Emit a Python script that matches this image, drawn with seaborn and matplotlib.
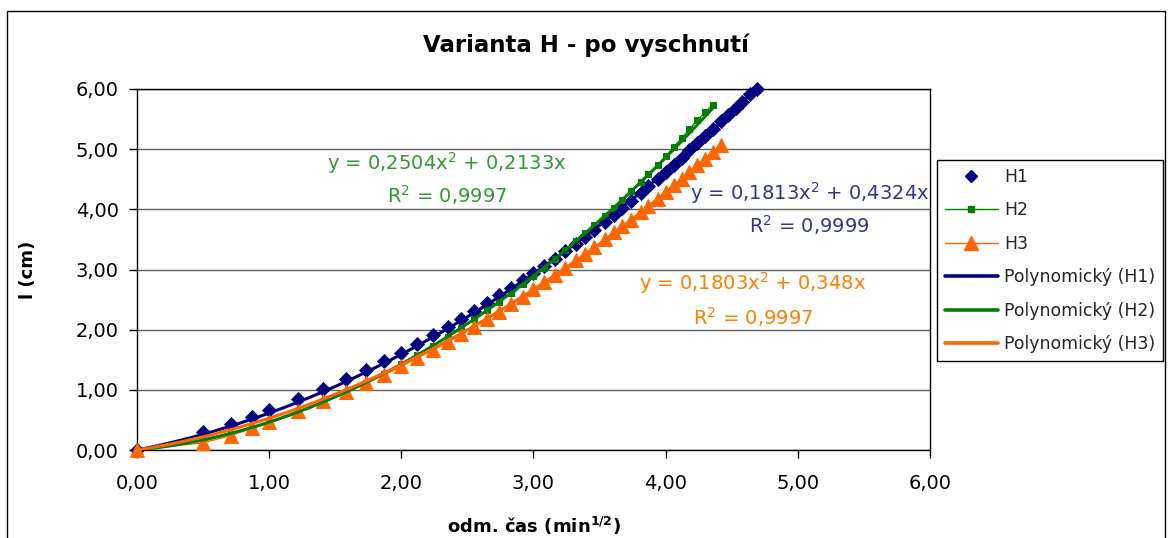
import numpy as np
import pandas as pd
import matplotlib
matplotlib.use("Agg")
import matplotlib.pyplot as plt
import seaborn as sns
from matplotlib.lines import Line2D
from matplotlib.patches import Rectangle
from matplotlib.ticker import FixedLocator, FuncFormatter

# ---------------- data ----------------
x_sqrt_time = [0.00, 0.50, 0.71, 0.87, 1.00, 1.22, 1.41, 1.58, 1.73, 1.87,
               2.00, 2.12, 2.24, 2.35, 2.45, 2.55, 2.65, 2.74, 2.83, 2.92,
               3.00, 3.08, 3.16, 3.24, 3.32, 3.39, 3.46, 3.54, 3.61, 3.67,
               3.74, 3.81, 3.87, 3.94, 4.00, 4.06, 4.12, 4.18, 4.24, 4.30,
               4.36, 4.42, 4.47, 4.53, 4.58, 4.64, 4.69]

y_h1 = [0.00, 0.30, 0.44, 0.55, 0.66, 0.85, 1.02, 1.18, 1.33, 1.48,
        1.62, 1.76, 1.91, 2.05, 2.18, 2.31, 2.44, 2.57, 2.70, 2.82,
        2.94, 3.06, 3.18, 3.30, 3.42, 3.54, 3.66, 3.79, 3.91, 4.02,
        4.14, 4.27, 4.38, 4.51, 4.62, 4.74, 4.86, 4.98, 5.10, 5.22,
        5.34, 5.46, 5.57, 5.69, 5.79, 5.91, 6.00]

y_h2 = [0.00, 0.15, 0.26, 0.36, 0.45, 0.62, 0.79, 0.95, 1.11, 1.27,
        1.43, 1.58, 1.73, 1.88, 2.02, 2.17, 2.32, 2.46, 2.61, 2.76,
        2.89, 3.03, 3.17, 3.32, 3.47, 3.60, 3.74, 3.89, 4.03, 4.16,
        4.31, 4.46, 4.59, 4.74, 4.88, 5.03, 5.18, 5.33, 5.48, 5.62,
        5.74]

y_h3 = [0.00, 0.12, 0.24, 0.36, 0.47, 0.65, 0.81, 0.97, 1.11, 1.25,
        1.39, 1.53, 1.66, 1.79, 1.92, 2.05, 2.18, 2.30, 2.43, 2.55,
        2.67, 2.79, 2.91, 3.03, 3.15, 3.26, 3.37, 3.50, 3.62, 3.72,
        3.83, 3.95, 4.06, 4.18, 4.29, 4.40, 4.51, 4.62, 4.73, 4.84,
        4.95, 5.07]

series_names = ["H1", "H2", "H3"]
fit_names = ["Polynomický (H1)", "Polynomický (H2)", "Polynomický (H3)"]
fit_a = [0.1813, 0.2504, 0.1803]     # coefficient of x^2 (trendline labels)
fit_b = [0.4324, 0.2133, 0.348]      # coefficient of x
fit_r2 = ["0,9999", "0,9997", "0,9997"]
eq_a_text = ["0,1813", "0,2504", "0,1803"]
eq_b_text = ["0,4324", "0,2133", "0,348"]

x_ticks = [0, 1, 2, 3, 4, 5, 6]
y_ticks = [0, 1, 2, 3, 4, 5, 6]

title_text = "Varianta H - po vyschnutí"
x_label = r"odm. čas (min$^{\mathbf{1/2}}$)"
y_label = "l (cm)"

# ---------------- style ----------------
sns.set_theme(style="white")
plt.rcParams["font.family"] = ["DejaVu Sans"]
plt.rcParams["mathtext.fontset"] = "custom"
plt.rcParams["mathtext.rm"] = "DejaVu Sans"
plt.rcParams["mathtext.it"] = "DejaVu Sans:italic"
plt.rcParams["mathtext.bf"] = "DejaVu Sans:bold"
plt.rcParams["mathtext.default"] = "regular"

c_series = ["#000080", "#008000", "#FF6600"]
c_eq = ["#333399", "#339933", "#FF8000"]

W, H = 1171, 538
fig = plt.figure(figsize=(W / 100, H / 100), dpi=100)
fig.patch.set_facecolor("white")
ax = fig.add_axes([137 / W, 1 - 450 / H, (930 - 137) / W, (450 - 89) / H])
ax.set_facecolor("white")

# outer chart frame (bottom edge outside the picture)
fig.add_artist(Rectangle((7 / W, -0.05), (1165 - 7) / W, 1 - 10.5 / H + 0.05,
                         transform=fig.transFigure, fill=False,
                         edgecolor="black", lw=1.0))

# ---------------- series ----------------
ys = [y_h1, y_h2, y_h3]
xs = [x_sqrt_time[:len(y)] for y in ys]

sns.scatterplot(x=xs[0], y=ys[0], ax=ax, marker="D", s=52, color=c_series[0],
                edgecolor=c_series[0], linewidth=0.5, zorder=3, clip_on=False,
                legend=False)
sns.lineplot(x=xs[1], y=ys[1], ax=ax, marker="s", markersize=5,
             color=c_series[1], markeredgecolor=c_series[1], lw=1,
             estimator=None, sort=False, zorder=3, clip_on=False, legend=False)
sns.lineplot(x=xs[2], y=ys[2], ax=ax, marker="^", markersize=10,
             color=c_series[2], markeredgecolor=c_series[2], lw=1,
             estimator=None, sort=False, zorder=3, clip_on=False, legend=False)

# trendlines (polynomial, intercept 0) from the displayed coefficients
fit_rows = []
for name, a, b, x in zip(fit_names, fit_a, fit_b, xs):
    xx = np.linspace(min(x), max(x), 200)
    fit_rows.append(pd.DataFrame({"x": xx, "y": a * xx ** 2 + b * xx, "series": name}))
fit_df = pd.concat(fit_rows, ignore_index=True)
sns.lineplot(data=fit_df, x="x", y="y", hue="series", ax=ax,
             palette=dict(zip(fit_names, c_series)), lw=2.2,
             estimator=None, sort=False, zorder=4, legend=False)

# trendline equations
eq_pos = [(5.09, 4.155, 3.607), (2.345, 4.65, 4.105), (4.66, 2.66, 2.077)]
for i in range(3):
    xp, ye, yr = eq_pos[i]
    ax.text(xp, ye, f"y = {eq_a_text[i]}x$^2$ + {eq_b_text[i]}x", color=c_eq[i],
            fontsize=14, ha="center", va="baseline", zorder=5)
    ax.text(xp, yr, f"R$^2$ = {fit_r2[i]}", color=c_eq[i],
            fontsize=14, ha="center", va="baseline", zorder=5)

# ---------------- axes ----------------
ax.set_xlim(0, 6)
ax.set_ylim(0, 6)
ax.xaxis.set_major_locator(FixedLocator(x_ticks))
ax.yaxis.set_major_locator(FixedLocator(y_ticks))
fmt = FuncFormatter(lambda v, p: f"{v:.2f}".replace(".", ","))
ax.xaxis.set_major_formatter(fmt)
ax.yaxis.set_major_formatter(fmt)
ax.tick_params(axis="both", which="major", direction="out", length=6,
               width=1, colors="black", labelsize=14, bottom=True, left=True)
ax.tick_params(axis="x", pad=11)
ax.tick_params(axis="y", pad=7)
ax.grid(axis="y", color="#606060", lw=1.0, zorder=0)
ax.grid(axis="x", visible=False)
for sp in ax.spines.values():
    sp.set_visible(True)
    sp.set_color("black")
    sp.set_linewidth(1.0)

ax.set_xlabel(x_label, fontsize=13, fontweight="bold", color="black")
ax.set_ylabel(y_label, fontsize=13, fontweight="bold", color="black")
ax.xaxis.set_label_coords(0.5, -0.21)
ax.xaxis.label.set_verticalalignment("center")
ax.yaxis.set_label_coords(-0.137, 0.5)
ax.yaxis.label.set_verticalalignment("center")

fig.text(0.5, 1 - 45 / H, title_text, ha="center", va="center",
         fontsize=16.5, fontweight="bold", color="black")

# ---------------- legend ----------------
handles = [
    Line2D([], [], color=c_series[0], marker="D", linestyle="none", markersize=6.5),
    Line2D([], [], color=c_series[1], marker="s", lw=1, markersize=5),
    Line2D([], [], color=c_series[2], marker="^", lw=1, markersize=9.5),
    Line2D([], [], color=c_series[0], lw=2.6),
    Line2D([], [], color=c_series[1], lw=2.6),
    Line2D([], [], color=c_series[2], lw=2.6),
]
labels = series_names + fit_names
leg = ax.legend(handles, labels, loc="upper left",
                bbox_to_anchor=(937 / W, 1 - 160 / H), bbox_transform=fig.transFigure,
                fontsize=12.4, frameon=True, fancybox=False, shadow=False,
                edgecolor="black", framealpha=1, borderaxespad=0,
                borderpad=0.45, handlelength=3.1, handletextpad=0.35,
                labelspacing=0.9)
leg.get_frame().set_linewidth(1.0)

fig.savefig("out.png", dpi=100)
